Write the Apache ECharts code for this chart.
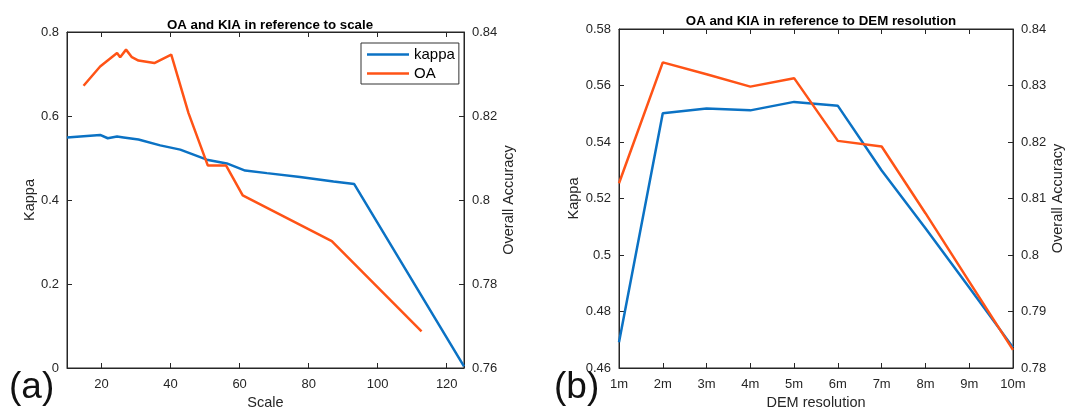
<!DOCTYPE html>
<html>
<head>
<meta charset="utf-8">
<script src="https://cdn.jsdelivr.net/npm/echarts@6/dist/echarts.min.js"></script>
<style>
  html, body { margin: 0; padding: 0; background: #fff; }
  #chart { width: 1083px; height: 409px; }
</style>
</head>
<body>
<div id="chart"></div>
<script>
// panel (a): values vs scale
var scaleKappa = [
  [10, 0.549], [19.6, 0.555], [21.8, 0.547], [24.5, 0.551], [26.4, 0.549],
  [30.7, 0.544], [37, 0.530], [42.8, 0.520], [50.5, 0.496], [56.3, 0.487],
  [61.6, 0.470], [67.9, 0.464], [77.5, 0.455], [87.2, 0.444], [93.2, 0.438],
  [125, 0.004]
];
var scaleOA = [
  [14.8, 0.8272], [19.6, 0.8318], [24.5, 0.8350], [25.4, 0.8340], [27.1, 0.8358],
  [28.8, 0.8340], [30.7, 0.8332], [35.3, 0.8326], [40.2, 0.8346], [45.2, 0.8207],
  [50.8, 0.8082], [56.1, 0.8082], [60.9, 0.8011], [86.7, 0.7902], [112.7, 0.7687]
];
var scaleTicks = [20, 40, 60, 80, 100, 120];

// panel (b): values vs DEM resolution
var demRes = ['1m', '2m', '3m', '4m', '5m', '6m', '7m', '8m', '9m', '10m'];
var demKappa = [0.4691, 0.5502, 0.5519, 0.5512, 0.5542, 0.5528, 0.5299, 0.5095, 0.4885, 0.4673];
var demOA = [0.8127, 0.8341, 0.8320, 0.8298, 0.8313, 0.8202, 0.8192, 0.8074, 0.7953, 0.7832];

var blue = '#0b72c4';
var orange = '#ff5316';
var font = 'Liberation Sans, Arial, sans-serif';
var axisCol = '#262626';

function valAxis(extra) {
  var base = {
    type: 'value',
    axisLine: { show: true, lineStyle: { color: axisCol, width: 1 } },
    axisTick: { show: true, inside: true, length: 5, lineStyle: { color: axisCol } },
    axisLabel: { color: axisCol, fontFamily: font, fontSize: 13 },
    splitLine: { show: false },
    nameLocation: 'middle',
    nameTextStyle: { color: axisCol, fontFamily: font, fontSize: 14.5 }
  };
  return Object.assign(base, extra);
}

var chart = echarts.init(document.getElementById('chart'));
chart.setOption({
  backgroundColor: '#fff',
  animation: false,
  title: [
    { text: 'OA and KIA in reference to scale', left: 265, top: 14, textAlign: 'center',
      textStyle: { fontFamily: font, fontSize: 13.3, fontWeight: 'bold', color: '#000' } },
    { text: 'OA and KIA in reference to DEM resolution', left: 816, top: 10, textAlign: 'center',
      textStyle: { fontFamily: font, fontSize: 13.3, fontWeight: 'bold', color: '#000' } }
  ],
  legend: {
    data: ['kappa', 'OA'],
    orient: 'vertical',
    left: 361, top: 43,
    icon: 'rect',
    itemWidth: 42, itemHeight: 2.5, itemGap: 4,
    padding: [4, 4, 3, 6],
    borderColor: '#333', borderWidth: 1, backgroundColor: '#fff',
    textStyle: { fontFamily: font, fontSize: 15, color: '#000' }
  },
  grid: [
    { left: 67, top: 32, width: 397, height: 336, show: true, borderColor: axisCol, borderWidth: 1,
      outerBoundsMode: 'none' },
    { left: 619, top: 29, width: 394, height: 339, show: true, borderColor: axisCol, borderWidth: 1,
      outerBoundsMode: 'none' }
  ],
  xAxis: [
    valAxis({ gridIndex: 0, min: 10, max: 125, name: 'Scale', nameGap: 27,
      axisTick: { show: true, inside: true, length: 5, lineStyle: { color: axisCol }, customValues: scaleTicks },
      axisLabel: { color: axisCol, fontFamily: font, fontSize: 13, margin: 10, customValues: scaleTicks } }),
    valAxis({ gridIndex: 0, min: 10, max: 125, position: 'top',
      axisTick: { show: true, inside: true, length: 5, lineStyle: { color: axisCol }, customValues: scaleTicks },
      axisLabel: { show: false } }),
    { type: 'category', gridIndex: 1, data: demRes, boundaryGap: false, name: 'DEM resolution',
      nameLocation: 'middle', nameGap: 27,
      nameTextStyle: { color: axisCol, fontFamily: font, fontSize: 14.5 },
      axisLine: { lineStyle: { color: axisCol } },
      axisTick: { inside: true, length: 5, lineStyle: { color: axisCol } },
      axisLabel: { color: axisCol, fontFamily: font, fontSize: 13, margin: 10 } },
    { type: 'category', gridIndex: 1, data: demRes, boundaryGap: false, position: 'top',
      axisLine: { lineStyle: { color: axisCol } },
      axisTick: { inside: true, length: 5, lineStyle: { color: axisCol } },
      axisLabel: { show: false } }
  ],
  yAxis: [
    valAxis({ gridIndex: 0, min: 0, max: 0.8, interval: 0.2, name: 'Kappa', nameGap: 25 }),
    valAxis({ gridIndex: 0, min: 0.76, max: 0.84, interval: 0.02, position: 'right',
      name: 'Overall Accuracy', nameGap: 36 }),
    valAxis({ gridIndex: 1, min: 0.46, max: 0.58, interval: 0.02, name: 'Kappa', nameGap: 30 }),
    valAxis({ gridIndex: 1, min: 0.78, max: 0.84, interval: 0.01, position: 'right',
      name: 'Overall Accuracy', nameGap: 33 })
  ],
  graphic: [
    { type: 'text', left: 9, top: 369, style: { text: '(a)', fontFamily: font, fontSize: 37, fill: '#111' } },
    { type: 'text', left: 554, top: 369, style: { text: '(b)', fontFamily: font, fontSize: 37, fill: '#111' } }
  ],
  series: [
    { name: 'kappa', type: 'line', xAxisIndex: 0, yAxisIndex: 0, data: scaleKappa,
      symbol: 'none', lineStyle: { color: blue, width: 2.5 }, itemStyle: { color: blue } },
    { name: 'OA', type: 'line', xAxisIndex: 0, yAxisIndex: 1, data: scaleOA,
      symbol: 'none', lineStyle: { color: orange, width: 2.5 }, itemStyle: { color: orange } },
    { name: 'kappa', type: 'line', xAxisIndex: 2, yAxisIndex: 2, data: demKappa,
      symbol: 'none', lineStyle: { color: blue, width: 2.5 }, itemStyle: { color: blue } },
    { name: 'OA', type: 'line', xAxisIndex: 2, yAxisIndex: 3, data: demOA,
      symbol: 'none', lineStyle: { color: orange, width: 2.5 }, itemStyle: { color: orange } }
  ]
});
</script>
</body>
</html>
